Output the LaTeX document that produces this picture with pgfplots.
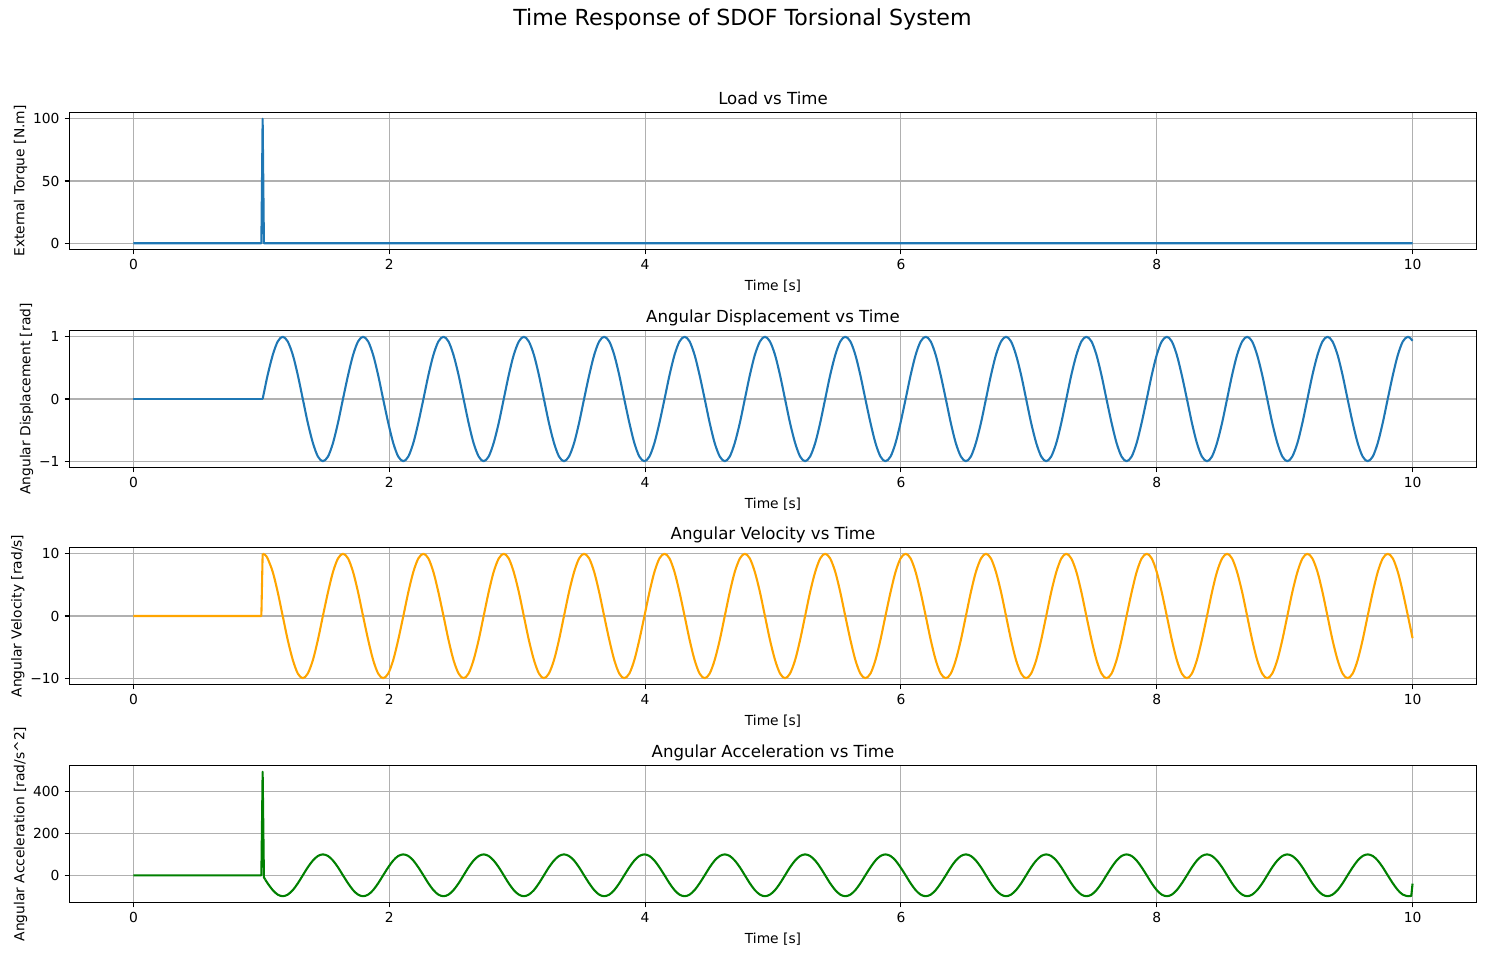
\documentclass[border=0pt]{standalone}
\usepackage{fontspec}
\setmainfont{DejaVu Sans}
\usepackage{pgfplots}
\pgfplotsset{compat=1.18}
\usepackage{pgfplotstable}

\definecolor{c0}{HTML}{1F77B4}
\definecolor{corange}{HTML}{FFA500}
\definecolor{cgreen}{HTML}{008000}
\definecolor{cgrid}{HTML}{B0B0B0}

% response after the impulse: time, angle, velocity, acceleration
\pgfplotstableread{
t     th      om      al
1.010  0.000  10.000    0.00
1.030  0.199   9.801  -19.87
1.049  0.3827  9.239  -38.27
1.089  0.7071  7.071  -70.71
1.128  0.9239  3.827  -92.39
1.167  1.000   0.000 -100.00
1.206  0.9239 -3.827  -92.39
1.246  0.7071 -7.071  -70.71
1.285  0.3827 -9.239  -38.27
1.324  0.000 -10.000    0.00
1.363 -0.3827 -9.239   38.27
1.403 -0.7071 -7.071   70.71
1.442 -0.9239 -3.827   92.39
1.481 -1.000   0.000  100.00
1.521 -0.9239  3.827   92.39
1.560 -0.7071  7.071   70.71
1.599 -0.3827  9.239   38.27
1.638  0.000  10.000    0.00
1.678  0.3827  9.239  -38.27
1.717  0.7071  7.071  -70.71
1.756  0.9239  3.827  -92.39
1.795  1.000   0.000 -100.00
1.835  0.9239 -3.827  -92.39
1.874  0.7071 -7.071  -70.71
1.913  0.3827 -9.239  -38.27
1.952  0.000 -10.000    0.00
1.992 -0.3827 -9.239   38.27
2.031 -0.7071 -7.071   70.71
2.070 -0.9239 -3.827   92.39
2.110 -1.000   0.000  100.00
2.149 -0.9239  3.827   92.39
2.188 -0.7071  7.071   70.71
2.227 -0.3827  9.239   38.27
2.267  0.000  10.000    0.00
2.306  0.3827  9.239  -38.27
2.345  0.7071  7.071  -70.71
2.384  0.9239  3.827  -92.39
2.424  1.000   0.000 -100.00
2.463  0.9239 -3.827  -92.39
2.502  0.7071 -7.071  -70.71
2.542  0.3827 -9.239  -38.27
2.581  0.000 -10.000    0.00
2.620 -0.3827 -9.239   38.27
2.659 -0.7071 -7.071   70.71
2.699 -0.9239 -3.827   92.39
2.738 -1.000   0.000  100.00
2.777 -0.9239  3.827   92.39
2.816 -0.7071  7.071   70.71
2.856 -0.3827  9.239   38.27
2.895  0.000  10.000    0.00
2.934  0.3827  9.239  -38.27
2.973  0.7071  7.071  -70.71
3.013  0.9239  3.827  -92.39
3.052  1.000   0.000 -100.00
3.091  0.9239 -3.827  -92.39
3.131  0.7071 -7.071  -70.71
3.170  0.3827 -9.239  -38.27
3.209  0.000 -10.000    0.00
3.248 -0.3827 -9.239   38.27
3.288 -0.7071 -7.071   70.71
3.327 -0.9239 -3.827   92.39
3.366 -1.000   0.000  100.00
3.405 -0.9239  3.827   92.39
3.445 -0.7071  7.071   70.71
3.484 -0.3827  9.239   38.27
3.523  0.000  10.000    0.00
3.563  0.3827  9.239  -38.27
3.602  0.7071  7.071  -70.71
3.641  0.9239  3.827  -92.39
3.680  1.000   0.000 -100.00
3.720  0.9239 -3.827  -92.39
3.759  0.7071 -7.071  -70.71
3.798  0.3827 -9.239  -38.27
3.837  0.000 -10.000    0.00
3.877 -0.3827 -9.239   38.27
3.916 -0.7071 -7.071   70.71
3.955 -0.9239 -3.827   92.39
3.995 -1.000   0.000  100.00
4.034 -0.9239  3.827   92.39
4.073 -0.7071  7.071   70.71
4.112 -0.3827  9.239   38.27
4.152  0.000  10.000    0.00
4.191  0.3827  9.239  -38.27
4.230  0.7071  7.071  -70.71
4.269  0.9239  3.827  -92.39
4.309  1.000   0.000 -100.00
4.348  0.9239 -3.827  -92.39
4.387  0.7071 -7.071  -70.71
4.426  0.3827 -9.239  -38.27
4.466  0.000 -10.000    0.00
4.505 -0.3827 -9.239   38.27
4.544 -0.7071 -7.071   70.71
4.584 -0.9239 -3.827   92.39
4.623 -1.000   0.000  100.00
4.662 -0.9239  3.827   92.39
4.701 -0.7071  7.071   70.71
4.741 -0.3827  9.239   38.27
4.780  0.000  10.000    0.00
4.819  0.3827  9.239  -38.27
4.858  0.7071  7.071  -70.71
4.898  0.9239  3.827  -92.39
4.937  1.000   0.000 -100.00
4.976  0.9239 -3.827  -92.39
5.016  0.7071 -7.071  -70.71
5.055  0.3827 -9.239  -38.27
5.094  0.000 -10.000    0.00
5.133 -0.3827 -9.239   38.27
5.173 -0.7071 -7.071   70.71
5.212 -0.9239 -3.827   92.39
5.251 -1.000   0.000  100.00
5.290 -0.9239  3.827   92.39
5.330 -0.7071  7.071   70.71
5.369 -0.3827  9.239   38.27
5.408  0.000  10.000    0.00
5.447  0.3827  9.239  -38.27
5.487  0.7071  7.071  -70.71
5.526  0.9239  3.827  -92.39
5.565  1.000   0.000 -100.00
5.605  0.9239 -3.827  -92.39
5.644  0.7071 -7.071  -70.71
5.683  0.3827 -9.239  -38.27
5.722  0.000 -10.000    0.00
5.762 -0.3827 -9.239   38.27
5.801 -0.7071 -7.071   70.71
5.840 -0.9239 -3.827   92.39
5.879 -1.000   0.000  100.00
5.919 -0.9239  3.827   92.39
5.958 -0.7071  7.071   70.71
5.997 -0.3827  9.239   38.27
6.037  0.000  10.000    0.00
6.076  0.3827  9.239  -38.27
6.115  0.7071  7.071  -70.71
6.154  0.9239  3.827  -92.39
6.194  1.000   0.000 -100.00
6.233  0.9239 -3.827  -92.39
6.272  0.7071 -7.071  -70.71
6.311  0.3827 -9.239  -38.27
6.351  0.000 -10.000    0.00
6.390 -0.3827 -9.239   38.27
6.429 -0.7071 -7.071   70.71
6.469 -0.9239 -3.827   92.39
6.508 -1.000   0.000  100.00
6.547 -0.9239  3.827   92.39
6.586 -0.7071  7.071   70.71
6.626 -0.3827  9.239   38.27
6.665  0.000  10.000    0.00
6.704  0.3827  9.239  -38.27
6.743  0.7071  7.071  -70.71
6.783  0.9239  3.827  -92.39
6.822  1.000   0.000 -100.00
6.861  0.9239 -3.827  -92.39
6.900  0.7071 -7.071  -70.71
6.940  0.3827 -9.239  -38.27
6.979  0.000 -10.000    0.00
7.018 -0.3827 -9.239   38.27
7.058 -0.7071 -7.071   70.71
7.097 -0.9239 -3.827   92.39
7.136 -1.000   0.000  100.00
7.175 -0.9239  3.827   92.39
7.215 -0.7071  7.071   70.71
7.254 -0.3827  9.239   38.27
7.293  0.000  10.000    0.00
7.332  0.3827  9.239  -38.27
7.372  0.7071  7.071  -70.71
7.411  0.9239  3.827  -92.39
7.450  1.000   0.000 -100.00
7.490  0.9239 -3.827  -92.39
7.529  0.7071 -7.071  -70.71
7.568  0.3827 -9.239  -38.27
7.607  0.000 -10.000    0.00
7.647 -0.3827 -9.239   38.27
7.686 -0.7071 -7.071   70.71
7.725 -0.9239 -3.827   92.39
7.764 -1.000   0.000  100.00
7.804 -0.9239  3.827   92.39
7.843 -0.7071  7.071   70.71
7.882 -0.3827  9.239   38.27
7.922  0.000  10.000    0.00
7.961  0.3827  9.239  -38.27
8.000  0.7071  7.071  -70.71
8.039  0.9239  3.827  -92.39
8.079  1.000   0.000 -100.00
8.118  0.9239 -3.827  -92.39
8.157  0.7071 -7.071  -70.71
8.196  0.3827 -9.239  -38.27
8.236  0.000 -10.000    0.00
8.275 -0.3827 -9.239   38.27
8.314 -0.7071 -7.071   70.71
8.353 -0.9239 -3.827   92.39
8.393 -1.000   0.000  100.00
8.432 -0.9239  3.827   92.39
8.471 -0.7071  7.071   70.71
8.511 -0.3827  9.239   38.27
8.550  0.000  10.000    0.00
8.589  0.3827  9.239  -38.27
8.628  0.7071  7.071  -70.71
8.668  0.9239  3.827  -92.39
8.707  1.000   0.000 -100.00
8.746  0.9239 -3.827  -92.39
8.785  0.7071 -7.071  -70.71
8.825  0.3827 -9.239  -38.27
8.864  0.000 -10.000    0.00
8.903 -0.3827 -9.239   38.27
8.943 -0.7071 -7.071   70.71
8.982 -0.9239 -3.827   92.39
9.021 -1.000   0.000  100.00
9.060 -0.9239  3.827   92.39
9.100 -0.7071  7.071   70.71
9.139 -0.3827  9.239   38.27
9.178  0.000  10.000    0.00
9.217  0.3827  9.239  -38.27
9.257  0.7071  7.071  -70.71
9.296  0.9239  3.827  -92.39
9.335  1.000   0.000 -100.00
9.374  0.9239 -3.827  -92.39
9.414  0.7071 -7.071  -70.71
9.453  0.3827 -9.239  -38.27
9.492  0.000 -10.000    0.00
9.532 -0.3827 -9.239   38.27
9.571 -0.7071 -7.071   70.71
9.610 -0.9239 -3.827   92.39
9.649 -1.000   0.000  100.00
9.689 -0.9239  3.827   92.39
9.728 -0.7071  7.071   70.71
9.767 -0.3827  9.239   38.27
9.806  0.000  10.000    0.00
9.846  0.3827  9.239  -38.27
9.885  0.7071  7.071  -70.71
9.924  0.9239  3.827  -92.39
9.964  1.000   0.000 -100.00
10.000 0.935  -3.560  -93.40
}\resp

\pgfplotsset{
  sub/.style={
    scale only axis,
    width=1013.04bp, height=98.64bp,
    anchor=north west,
    xmin=-0.5, xmax=10.5,
    xtick={0,2,4,6,8,10},
    xticklabels={0,2,4,6,8,10},
    xtick pos=left, ytick pos=left,
    tick align=outside,
    major tick length=3.5bp,
    tick style={black, line width=0.8bp},
    axis line style={line width=0.8bp},
    grid=major,
    major grid style={cgrid, line width=0.8bp},
    tick label style={font=\fontsize{10}{12}\selectfont, inner sep=0pt},
    xticklabel style={anchor=base, yshift=-10.9bp},
    yticklabel style={anchor=east, xshift=-3.5bp},
    label style={font=\fontsize{10}{12}\selectfont},
    xlabel={Time [s]},
    xlabel style={at={(0.5,0)}, anchor=base, inner sep=0pt, yshift=-29.8bp},
    ylabel style={inner sep=0pt, yshift=4bp},
    every axis title/.style={font=\fontsize{12}{14.4}\selectfont, at={(0.5,1)}, anchor=base, inner sep=0pt, yshift=6bp},
    every axis plot/.append style={line width=1.5bp, line join=round},
  }
}

\begin{document}
\begin{tikzpicture}
\useasboundingbox (0,0) rectangle (1069.2bp,687.6bp);
\node[anchor=base, font=\fontsize{16}{19}\selectfont] at (534.6bp,668.9bp) {Time Response of SDOF Torsional System};

\begin{axis}[sub, at={(50.04bp,606.6bp)},
    title={Load vs Time},
    ylabel={External Torque [N.m]},
    ymin=-5, ymax=105,
    ytick={0,50,100}, yticklabels={0,50,100}]
\addplot[c0] coordinates {(0,0)(1.0,0)(1.01,100)(1.02,0)(10,0)};
\end{axis}

\begin{axis}[sub, at={(50.04bp,449.64bp)},
    title={Angular Displacement vs Time},
    ylabel={Angular Displacement [rad]},
    ymin=-1.1, ymax=1.1,
    ytick={-1,0,1}, yticklabels={−1,0,1}]
\addplot[c0] coordinates {(0,0)(1.01,0)};
\addplot[c0, smooth] table[x=t, y=th] {\resp};
\end{axis}

\begin{axis}[sub, at={(50.04bp,293.4bp)},
    title={Angular Velocity vs Time},
    ylabel={Angular Velocity [rad/s]},
    ymin=-11, ymax=11,
    ytick={-10,0,10}, yticklabels={−10,0,10}]
\addplot[corange] coordinates {(0,0)(1.0,0)(1.01,10)};
\addplot[corange, smooth] table[x=t, y=om] {\resp};
\end{axis}

\begin{axis}[sub, at={(50.04bp,136.44bp)},
    title={Angular Acceleration vs Time},
    ylabel={Angular Acceleration [rad/s\textasciicircum 2]},
    ymin=-130, ymax=525,
    ytick={0,200,400}, yticklabels={0,200,400}]
\addplot[cgreen] coordinates {(0,0)(1.0,0)(1.01,495)(1.02,-10)(1.03,-19.87)};
\addplot[cgreen, smooth, restrict x to domain=1.025:9.97] table[x=t, y=al] {\resp};
\addplot[cgreen] coordinates {(9.964,-100)(9.99,-98.6)(10,-40)};
\end{axis}
\end{tikzpicture}
\end{document}
